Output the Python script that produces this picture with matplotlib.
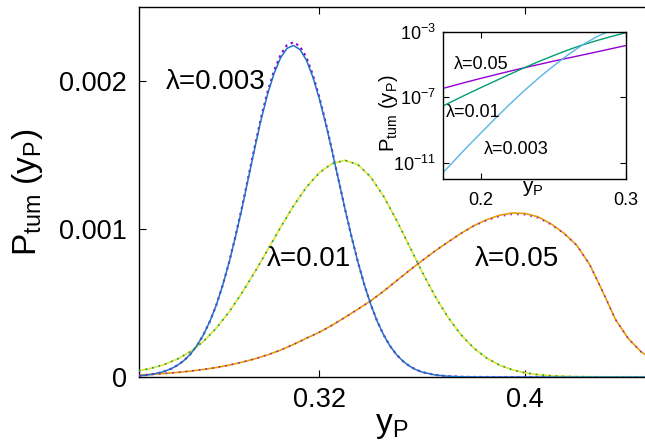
import matplotlib
matplotlib.use('Agg')
import matplotlib.pyplot as plt
import numpy as np

plt.rcParams['font.family'] = ['Liberation Sans', 'DejaVu Sans']
plt.rcParams['mathtext.fontset'] = 'custom'
plt.rcParams['mathtext.rm'] = 'Liberation Sans'
plt.rcParams['mathtext.it'] = 'Liberation Sans:italic'
plt.rcParams['mathtext.bf'] = 'Liberation Sans:bold'

# ---------------- main panel data ----------------
x003 = [0.2500, 0.2525, 0.2550, 0.2575, 0.2600, 0.2625, 0.2650, 0.2675, 0.2700, 0.2725,
        0.2750, 0.2775, 0.2800, 0.2825, 0.2850, 0.2875, 0.2900, 0.2925, 0.2950, 0.2975,
        0.3000, 0.3025, 0.3050, 0.3075, 0.3100, 0.3125, 0.3150, 0.3175, 0.3200, 0.3225,
        0.3250, 0.3275, 0.3300, 0.3325, 0.3350, 0.3375, 0.3400, 0.3425, 0.3450, 0.3475,
        0.3500, 0.3525, 0.3550, 0.3575, 0.3600, 0.3650, 0.3700, 0.3750, 0.3800, 0.3900,
        0.4500]
p003 = [8e-6, 1.2e-5, 1.8e-5, 2.7e-5, 3.9e-5, 5.6e-5, 8.0e-5, 1.12e-4, 1.55e-4, 2.12e-4,
        2.85e-4, 3.75e-4, 4.85e-4, 6.2e-4, 7.75e-4, 9.5e-4, 1.14e-3, 1.345e-3, 1.55e-3, 1.745e-3,
        1.915e-3, 2.053e-3, 2.157e-3, 2.221e-3, 2.240e-3, 2.213e-3, 2.141e-3, 2.028e-3, 1.882e-3, 1.712e-3,
        1.525e-3, 1.330e-3, 1.135e-3, 9.5e-4, 7.78e-4, 6.24e-4, 4.9e-4, 3.77e-4, 2.84e-4, 2.09e-4,
        1.51e-4, 1.07e-4, 7.4e-5, 5.0e-5, 3.3e-5, 1.36e-5, 5.2e-6, 1.8e-6, 5e-7, 0.0,
        0.0]
p003_fit = [8e-6, 1.2e-5, 1.8e-5, 2.7e-5, 3.9e-5, 5.6e-5, 8.0e-5, 1.12e-4, 1.55e-4, 2.12e-4,
            2.85e-4, 3.75e-4, 4.85e-4, 6.2e-4, 7.75e-4, 9.55e-4, 1.148e-3, 1.355e-3, 1.562e-3, 1.76e-3,
            1.932e-3, 2.072e-3, 2.178e-3, 2.243e-3, 2.262e-3, 2.234e-3, 2.16e-3, 2.043e-3, 1.893e-3, 1.72e-3,
            1.530e-3, 1.332e-3, 1.135e-3, 9.5e-4, 7.78e-4, 6.24e-4, 4.9e-4, 3.77e-4, 2.84e-4, 2.09e-4,
            1.51e-4, 1.07e-4, 7.4e-5, 5.0e-5, 3.3e-5, 1.36e-5, 5.2e-6, 1.8e-6, 5e-7, 0.0,
            0.0]

x01 = [0.250, 0.255, 0.260, 0.265, 0.270, 0.275, 0.280, 0.285, 0.290, 0.295,
       0.300, 0.305, 0.310, 0.315, 0.320, 0.325, 0.330, 0.335, 0.340, 0.345,
       0.350, 0.355, 0.360, 0.365, 0.370, 0.375, 0.380, 0.385, 0.390, 0.395,
       0.400, 0.405, 0.410, 0.415, 0.420, 0.430, 0.450]
p01 = [4.2e-5, 6.0e-5, 8.6e-5, 1.22e-4, 1.72e-4, 2.4e-4, 3.3e-4, 4.4e-4, 5.69e-4, 7.10e-4,
       8.60e-4, 1.012e-3, 1.156e-3, 1.282e-3, 1.380e-3, 1.442e-3, 1.464e-3, 1.435e-3, 1.351e-3, 1.221e-3,
       1.060e-3, 8.84e-4, 7.08e-4, 5.45e-4, 4.03e-4, 2.86e-4, 1.95e-4, 1.28e-4, 8.0e-5, 4.85e-5,
       2.8e-5, 1.57e-5, 8.4e-6, 4.3e-6, 2.1e-6, 4e-7, 0.0]
p01_fit = p01

x05 = [0.250, 0.255, 0.260, 0.265, 0.270, 0.275, 0.280, 0.285, 0.290, 0.295,
       0.300, 0.305, 0.310, 0.315, 0.320, 0.325, 0.330, 0.335, 0.340, 0.345,
       0.350, 0.355, 0.360, 0.365, 0.370, 0.375, 0.380, 0.385, 0.390, 0.395,
       0.400, 0.405, 0.410, 0.415, 0.420, 0.425, 0.430, 0.435, 0.440, 0.445,
       0.450]
p05 = [1.3e-5, 1.8e-5, 2.4e-5, 3.1e-5, 4.0e-5, 5.1e-5, 6.4e-5, 8.0e-5, 1.0e-4, 1.23e-4,
       1.5e-4, 1.82e-4, 2.2e-4, 2.62e-4, 3.02e-4, 3.5e-4, 4.03e-4, 4.58e-4, 5.15e-4, 5.8e-4,
       6.5e-4, 7.2e-4, 7.87e-4, 8.52e-4, 9.12e-4, 9.7e-4, 1.022e-3, 1.063e-3, 1.093e-3, 1.108e-3,
       1.105e-3, 1.082e-3, 1.035e-3, 9.72e-4, 8.9e-4, 7.6e-4, 5.8e-4, 3.9e-4, 2.6e-4, 1.7e-4,
       1.1e-4]
p05_fit = [1.3e-5, 1.8e-5, 2.4e-5, 3.1e-5, 4.0e-5, 5.1e-5, 6.4e-5, 8.0e-5, 1.0e-4, 1.23e-4,
           1.5e-4, 1.82e-4, 2.2e-4, 2.62e-4, 3.02e-4, 3.5e-4, 4.03e-4, 4.58e-4, 5.15e-4, 5.8e-4,
           6.5e-4, 7.2e-4, 7.87e-4, 8.52e-4, 9.12e-4, 9.7e-4, 1.02e-3, 1.058e-3, 1.085e-3, 1.099e-3,
           1.096e-3, 1.075e-3, 1.03e-3, 9.7e-4, 8.9e-4, 7.6e-4, 5.8e-4, 3.9e-4, 2.6e-4, 1.7e-4,
           1.1e-4]

main_xticks = [0.32, 0.4]
main_xticklabels = ['0.32', '0.4']
main_yticks = [0.0, 0.001, 0.002]
main_yticklabels = ['0', '0.001', '0.002']

# ---------------- inset data (log10 of P) ----------------
ins_x = [0.174, 0.18, 0.19, 0.20, 0.21, 0.22, 0.23, 0.24, 0.25, 0.26, 0.27, 0.28, 0.29, 0.30]
ins_log05 = [-6.46, -6.32, -6.08, -5.85, -5.63, -5.41, -5.20, -5.00, -4.80, -4.61, -4.42, -4.23, -4.035, -3.84]
ins_log01 = [-7.54, -7.27, -6.84, -6.42, -6.01, -5.60, -5.20, -4.82, -4.46, -4.12, -3.81, -3.54, -3.29, -3.06]
ins_log003 = [-11.61, -11.05, -10.1, -9.2, -8.3, -7.43, -6.6, -5.82, -5.1, -4.42, -3.81, -3.30, -2.90, -2.58]
ins_yticks = [1e-11, 1e-7, 1e-3]
ins_yticklabels = [r'$10^{-11}$', r'$10^{-7}$', r'$10^{-3}$']
ins_xticks = [0.2, 0.3]
ins_xticklabels = ['0.2', '0.3']

C_BLUE = '#1f74c6'
C_VIOLET = '#9400d3'
C_YELLOW = '#e8e23a'
C_GREEN = '#009e73'
C_ORANGE = '#e69f00'
C_SKY = '#56b4e9'

fig = plt.figure(figsize=(6.45, 4.4), dpi=100)
ax = fig.add_axes([139/645, 63/440, 506/645, 370/440])

ax.plot(x003, p003_fit, color=C_VIOLET, lw=1.5, ls=(0, (1.2, 1.8)), zorder=3)
ax.plot(x003, p003, color=C_BLUE, lw=1.1, zorder=4)
ax.plot(x01, p01, color=C_YELLOW, lw=1.3, zorder=3)
ax.plot(x01, p01_fit, color=C_GREEN, lw=1.2, ls=(0, (1.0, 3.0)), zorder=4)
ax.plot(x05, p05, color=C_ORANGE, lw=1.2, zorder=3)
ax.plot(x05, p05_fit, color=C_VIOLET, lw=1.2, ls=(0, (1.0, 3.0)), zorder=4, alpha=0.8)

ax.set_xlim(0.25, 0.4465)
ax.set_ylim(0, 0.0025)
ax.spines['right'].set_visible(False)
for s in ['left', 'top', 'bottom']:
    ax.spines[s].set_linewidth(1.0)
ax.set_xticks(main_xticks)
ax.set_xticklabels(main_xticklabels)
ax.set_yticks(main_yticks)
ax.set_yticklabels(main_yticklabels)
ax.tick_params(axis='both', direction='in', length=5, width=0.8, labelsize=19.5, top=True, right=False)
ax.tick_params(axis='x', pad=7)
ax.tick_params(axis='y', pad=8.5)
ax.minorticks_off()
ax.set_xlabel(r'$\mathrm{y_P}$', fontsize=24, labelpad=-2)
ax.set_ylabel(r'$\mathrm{P_{tum}\ (y_P)}$', fontsize=24, labelpad=10)

ax.text(0.2799, 0.00199, 'λ=0.003', fontsize=20, ha='center', va='center')
ax.text(0.3160, 0.000795, 'λ=0.01', fontsize=20, ha='center', va='center')
ax.text(0.3969, 0.000795, 'λ=0.05', fontsize=20, ha='center', va='center')

# ---------------- inset ----------------
ins = fig.add_axes([442.7/645, (440-179.3)/440, 183.3/645, 147.6/440])
ins.plot(ins_x, 10.0**np.array(ins_log05), color=C_VIOLET, lw=1.0)
ins.plot(ins_x, 10.0**np.array(ins_log01), color=C_GREEN, lw=1.0)
ins.plot(ins_x, 10.0**np.array(ins_log003), color=C_SKY, lw=1.0)
ins.set_yscale('log')
ins.set_xlim(0.174, 0.3)
ins.set_ylim(1e-12, 1e-3)
ins.set_yticks(ins_yticks)
ins.set_yticklabels(ins_yticklabels)
ins.set_xticks(ins_xticks)
ins.set_xticklabels(ins_xticklabels)
ins.minorticks_off()
ins.tick_params(axis='both', direction='in', length=4, width=0.8, labelsize=13,
                top=True, right=True)
ins.tick_params(axis='x', pad=9)
ins.tick_params(axis='y', pad=5)
for s in ins.spines.values():
    s.set_linewidth(1.0)
ins.set_xlabel(r'$\mathrm{y_P}$', fontsize=15)
ins.xaxis.set_label_coords(0.49, 0.0)
ins.set_ylabel(r'$\mathrm{P_{tum}\ (y_P)}$', fontsize=14.5)
ins.yaxis.set_label_coords(-0.235, 0.45)

ins.text(0.2005, 10.0**-5.0, 'λ=0.05', fontsize=13, ha='center', va='center')
ins.text(0.195, 10.0**-7.9, 'λ=0.01', fontsize=13, ha='center', va='center')
ins.text(0.2245, 10.0**-10.2, 'λ=0.003', fontsize=13, ha='center', va='center')

fig.savefig('out.png', dpi=100)
